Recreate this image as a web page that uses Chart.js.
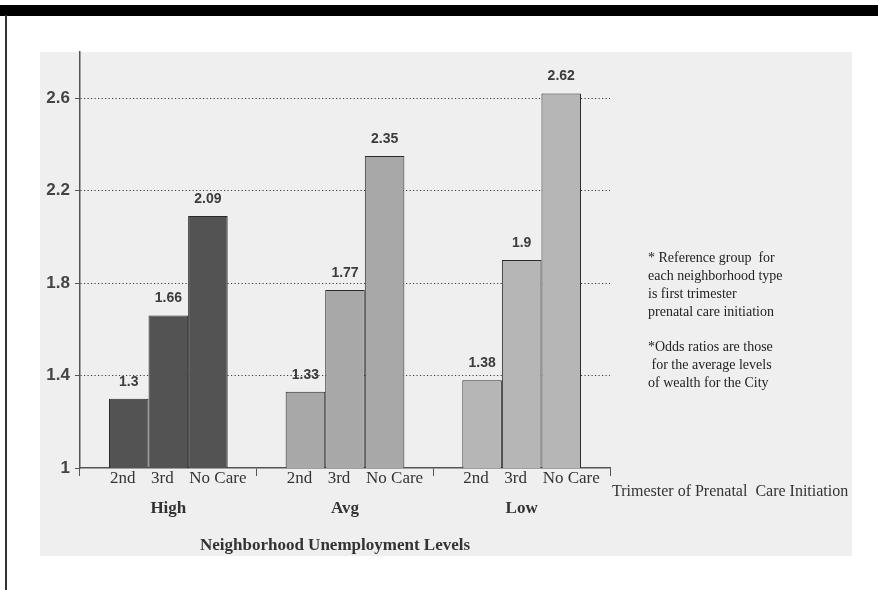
<!DOCTYPE html>
<html>
<head>
<meta charset="utf-8">
<script src="https://cdn.jsdelivr.net/npm/chart.js@4/dist/chart.umd.min.js"></script>
<style>
  html, body { margin: 0; padding: 0; background: #fff; }
  #wrap { width: 878px; height: 590px; }
</style>
</head>
<body>
<div id="wrap"><canvas id="c" width="878" height="590"></canvas></div>
<script>
  // --- dados ---
  var GROUPS = ["High", "Avg", "Low"];
  var TRIMESTERS = ["2nd", "3rd", "No Care"];
  var SECOND = [1.3, 1.33, 1.38];
  var THIRD = [1.66, 1.77, 1.9];
  var NO_CARE = [2.09, 2.35, 2.62];
  var Y_TICKS = [1, 1.4, 1.8, 2.2, 2.6];
  var NOTES = [
    "* Reference group  for",
    "each neighborhood type",
    "is first trimester",
    "prenatal care initiation",
    "",
    "*Odds ratios are those",
    " for the average levels",
    "of wealth for the City"
  ];
  var X_NOTE = "Trimester of Prenatal  Care Initiation";
  var X_TITLE = "Neighborhood Unemployment Levels";

  var GROUP_COLORS = ["#535353", "#a8a8a8", "#b6b6b6"];
  var SERIF = "'Liberation Serif', 'Times New Roman', serif";
  var SANS = "'Liberation Sans', Arial, sans-serif";
  var SUB_SHIFT = [-6, -6, 10];

  // fundo da página digitalizada (barra preta, borda, área cinza)
  var pagina = {
    id: "pagina",
    beforeDraw: function (chart) {
      var c = chart.ctx;
      c.save();
      c.fillStyle = "#ffffff";
      c.fillRect(0, 0, chart.width, chart.height);
      c.fillStyle = "#000000";
      c.fillRect(0, 5, chart.width, 11);
      c.fillStyle = "#333333";
      c.fillRect(5, 15, 2, chart.height - 15);
      c.fillStyle = "#efefef";
      c.fillRect(40, 52, 812, 504);
      c.restore();
    }
  };

  // rótulos de valor e rótulos de trimestre
  var rotulos = {
    id: "rotulos",
    afterDatasetsDraw: function (chart) {
      var c = chart.ctx;
      c.save();
      c.textAlign = "center";
      c.textBaseline = "middle";
      chart.data.datasets.forEach(function (ds, i) {
        chart.getDatasetMeta(i).data.forEach(function (el, j) {
          c.font = "bold 14px " + SANS;
          c.fillStyle = "#3c3c3c";
          c.fillText(String(ds.data[j]), el.x, el.y - 17);
          c.font = "17px " + SERIF;
          c.fillStyle = "#333";
          c.fillText(TRIMESTERS[i], el.x + SUB_SHIFT[i], 479);
        });
      });
      c.restore();
    },
    afterDraw: function (chart) {
      var c = chart.ctx;
      c.save();
      c.fillStyle = "#222";
      c.textBaseline = "middle";
      c.textAlign = "left";
      c.font = "14px " + SERIF;
      NOTES.forEach(function (t, k) {
        if (t) c.fillText(t, 648, 258 + k * 18 - (k > 4 ? 1 : 0));
      });
      c.font = "16px " + SERIF;
      c.fillStyle = "#333";
      c.fillText(X_NOTE, 612, 492);
      c.textAlign = "center";
      c.font = "bold 17px " + SERIF;
      c.fillText(X_TITLE, 335, 546);
      c.restore();
    }
  };

  function serie(label, dados) {
    return {
      label: label,
      data: dados,
      backgroundColor: GROUP_COLORS,
      borderColor: "#2a2a2a",
      borderWidth: 1,
      barPercentage: 1,
      categoryPercentage: 0.672
    };
  }

  new Chart(document.getElementById("c"), {
    type: "bar",
    data: {
      labels: GROUPS,
      datasets: [serie(TRIMESTERS[0], SECOND), serie(TRIMESTERS[1], THIRD), serie(TRIMESTERS[2], NO_CARE)]
    },
    options: {
      responsive: false,
      animation: false,
      devicePixelRatio: 1,
      layout: { padding: { left: 0, right: 268, top: 52, bottom: 62 } },
      plugins: { legend: { display: false }, tooltip: { enabled: false } },
      scales: {
        x: {
          grid: { offset: true, drawOnChartArea: false, drawTicks: true, tickLength: 8, color: "#555", tickColor: "#555" },
          border: { color: "#555", width: 1.5 },
          ticks: { font: { family: SERIF, size: 17, weight: "bold" }, color: "#333", padding: 22 },
          afterFit: function (s) { s.height = 60; }
        },
        y: {
          min: 1,
          max: 2.8,
          afterBuildTicks: function (s) { s.ticks = Y_TICKS.map(function (v) { return { value: v }; }); },
          grid: {
            color: function (ctx) { return ctx.tick && ctx.tick.value === 1 ? "rgba(0,0,0,0)" : "#3a3a3a"; },
            tickColor: "#555",
            tickLength: 5,
            lineWidth: 1
          },
          border: { color: "#555", width: 1.5, dash: [1.2, 2.3] },
          ticks: {
            font: { family: SANS, size: 17, weight: "bold" },
            color: "#444",
            padding: 5,
            callback: function (v) { return String(v); }
          },
          afterFit: function (s) { s.width = 80; }
        }
      }
    },
    plugins: [pagina, rotulos]
  });
</script>
</body>
</html>
